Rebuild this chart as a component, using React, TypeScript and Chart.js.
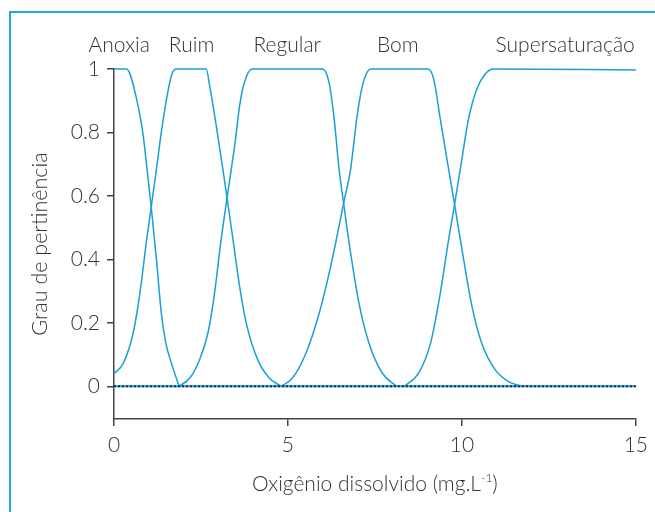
import { useEffect, useRef } from "react";
import { Chart, registerables } from "chart.js";

Chart.register(...registerables);

// ---- data (x = dissolved oxygen mg/L, y = membership degree) ----
const categories = ["Anoxia", "Ruim", "Regular", "Bom", "Supersaturação"];
// x (data units) where each category label is centred above the plot
const categoryLabelX = [0.15, 2.23, 4.98, 8.16, 12.97];

const anoxia: [number, number][] = [
  [0, 1], [0.36, 1], [0.65, 0.905], [0.84, 0.789], [0.95, 0.684], [1.07, 0.565],
  [1.22, 0.4], [1.36, 0.231], [1.49, 0.136], [1.65, 0.073], [1.87, 0],
];
const ruim: [number, number][] = [
  [0, 0.04], [0.27, 0.073], [0.55, 0.168], [0.745, 0.294], [0.94, 0.463], [1.07, 0.565],
  [1.22, 0.684], [1.36, 0.8], [1.51, 0.905], [1.65, 0.979], [1.77, 1], [2.65, 1],
  [2.75, 0.947], [2.94, 0.821], [3.13, 0.684], [3.25, 0.594], [3.42, 0.463], [3.61, 0.315],
  [3.8, 0.2], [4.13, 0.084], [4.45, 0.028], [4.8, 0],
];
const regular: [number, number][] = [
  [1.87, 0], [2.18, 0.026], [2.46, 0.084], [2.7, 0.168], [2.89, 0.294], [3.08, 0.463],
  [3.25, 0.594], [3.48, 0.768], [3.61, 0.884], [3.75, 0.958], [3.97, 1], [5.99, 1],
  [6.18, 0.958], [6.33, 0.842], [6.47, 0.684], [6.6, 0.577], [6.8, 0.421], [7.04, 0.263],
  [7.33, 0.136], [7.71, 0.042], [8.12, 0],
];
const bom: [number, number][] = [
  [4.8, 0], [5.13, 0.026], [5.52, 0.105], [5.9, 0.231], [6.23, 0.379], [6.47, 0.505],
  [6.6, 0.577], [6.8, 0.684], [6.99, 0.853], [7.14, 0.947], [7.38, 1], [9.03, 1],
  [9.19, 0.968], [9.38, 0.842], [9.57, 0.716], [9.79, 0.573], [10.05, 0.4], [10.29, 0.252],
  [10.57, 0.136], [10.96, 0.052], [11.34, 0.015], [11.73, 0],
];
const supersaturacao: [number, number][] = [
  [8.35, 0], [8.76, 0.042], [9.1, 0.136], [9.38, 0.294], [9.62, 0.463], [9.79, 0.573],
  [10.0, 0.716], [10.19, 0.842], [10.43, 0.937], [10.67, 0.984], [10.91, 1], [15, 0.997],
];
const baseline: [number, number][] = [[0, 0], [15, 0]];

const xTicks = [0, 5, 10, 15];
const yTicks = [0, 0.2, 0.4, 0.6, 0.8, 1];
const xTitle = "Oxigênio dissolvido (mg.L";
const xTitleSup = "-1";
const xTitleEnd = ")";
const yTitle = "Grau de pertinência";

const BLUE = "#1a9fd8";
const TEXT = "#333333";
const AXIS = "#444444";
const FONT = "Lato, 'Open Sans', sans-serif";

const toPts = (a: [number, number][]) => a.map(([x, y]) => ({ x, y }));

export default function App() {
  const ref = useRef<HTMLCanvasElement | null>(null);

  useEffect(() => {
    if (!ref.current) return;
    const series = [anoxia, ruim, regular, bom, supersaturacao];

    const labelsPlugin = {
      id: "labelsPlugin",
      afterDraw(chart: any) {
        const ctx = chart.ctx;
        const xs = chart.scales.x;
        const area = chart.chartArea;
        ctx.save();
        ctx.fillStyle = TEXT;
        ctx.font = `300 21px ${FONT}`;
        ctx.textAlign = "center";
        ctx.textBaseline = "alphabetic";
        categories.forEach((c, i) => {
          ctx.fillText(c, xs.getPixelForValue(categoryLabelX[i]), 52);
        });
        // y title
        ctx.save();
        ctx.translate(40, (area.top + area.bottom) / 2);
        ctx.rotate(-Math.PI / 2);
        ctx.textAlign = "center";
        ctx.textBaseline = "middle";
        ctx.font = `300 21.5px ${FONT}`;
        ctx.fillText(yTitle, 0, 0);
        ctx.restore();
        // x title with superscript
        ctx.font = `300 21px ${FONT}`;
        const w1 = ctx.measureText(xTitle).width;
        const w3 = ctx.measureText(xTitleEnd).width;
        ctx.font = `300 12px ${FONT}`;
        const w2 = ctx.measureText(xTitleSup).width;
        const cx = (area.left + area.right) / 2;
        let x0 = cx - (w1 + w2 + w3) / 2;
        const by = 491;
        ctx.textAlign = "left";
        ctx.textBaseline = "alphabetic";
        ctx.font = `300 21px ${FONT}`;
        ctx.fillText(xTitle, x0, by);
        x0 += w1;
        ctx.font = `300 12px ${FONT}`;
        ctx.fillText(xTitleSup, x0, by - 9);
        x0 += w2;
        ctx.font = `300 21px ${FONT}`;
        ctx.fillText(xTitleEnd, x0, by);
        ctx.restore();
      },
    };

    const chart = new Chart(ref.current, {
      type: "line",
      data: {
        datasets: [
          {
            data: toPts(baseline),
            borderColor: "#1b2f45",
            borderDash: [2, 2],
            borderWidth: 2,
            pointRadius: 0,
            clip: false as any,
          },
          ...series.map((s) => ({
            data: toPts(s),
            borderColor: BLUE,
            borderWidth: 1.5,
            pointRadius: 0,
            fill: false,
            cubicInterpolationMode: "monotone" as const,
            clip: false as any,
          })),
          {
            data: toPts(baseline),
            borderColor: BLUE,
            borderWidth: 2,
            pointRadius: 0,
            clip: false as any,
          },
        ],
      },
      options: {
        responsive: false,
        animation: false,
        layout: { padding: { left: 0, right: 17, top: 69, bottom: 0 } },
        plugins: { legend: { display: false }, tooltip: { enabled: false } },
        scales: {
          x: {
            type: "linear",
            min: 0,
            max: 15,
            afterBuildTicks: (s: any) => {
              s.ticks = xTicks.map((v) => ({ value: v }));
            },
            afterFit: (s: any) => {
              s.height = 93;
            },
            grid: { display: true, drawOnChartArea: false, drawTicks: true, tickLength: 7, color: AXIS, lineWidth: 1.5 },
            border: { display: true, color: AXIS, width: 1.5 },
            ticks: {
              color: TEXT,
              font: { family: FONT, size: 21, weight: 300 as any },
              padding: 7,
              maxRotation: 0,
              autoSkip: false,
              callback: (v: any) => String(v),
            },
          },
          y: {
            type: "linear",
            min: -0.103,
            max: 1,
            afterBuildTicks: (s: any) => {
              s.ticks = yTicks.map((v) => ({ value: v }));
            },
            afterFit: (s: any) => {
              s.width = 114;
            },
            grid: { display: true, drawOnChartArea: false, drawTicks: true, tickLength: 7, color: AXIS, lineWidth: 1.5 },
            border: { display: true, color: AXIS, width: 1.5 },
            ticks: {
              color: TEXT,
              font: { family: FONT, size: 21, weight: 300 as any },
              padding: 7,
              autoSkip: false,
              callback: (v: any) => String(Math.round(Number(v) * 10) / 10),
            },
          },
        },
      },
      plugins: [labelsPlugin],
    });
    return () => chart.destroy();
  }, []);

  return (
    <div style={{ position: "absolute", left: 0, top: 0, width: 655, height: 512, overflow: "hidden", background: "#fff" }}>
      <div
        style={{
          position: "absolute",
          left: 9,
          top: 11,
          width: 700,
          height: 600,
          borderLeft: "2px solid #22a8e0",
          borderTop: "2px solid #22a8e0",
        }}
      />
      <canvas ref={ref} width={655} height={512} style={{ position: "absolute", left: 0, top: 0, width: 655, height: 512 }} />
    </div>
  );
}
